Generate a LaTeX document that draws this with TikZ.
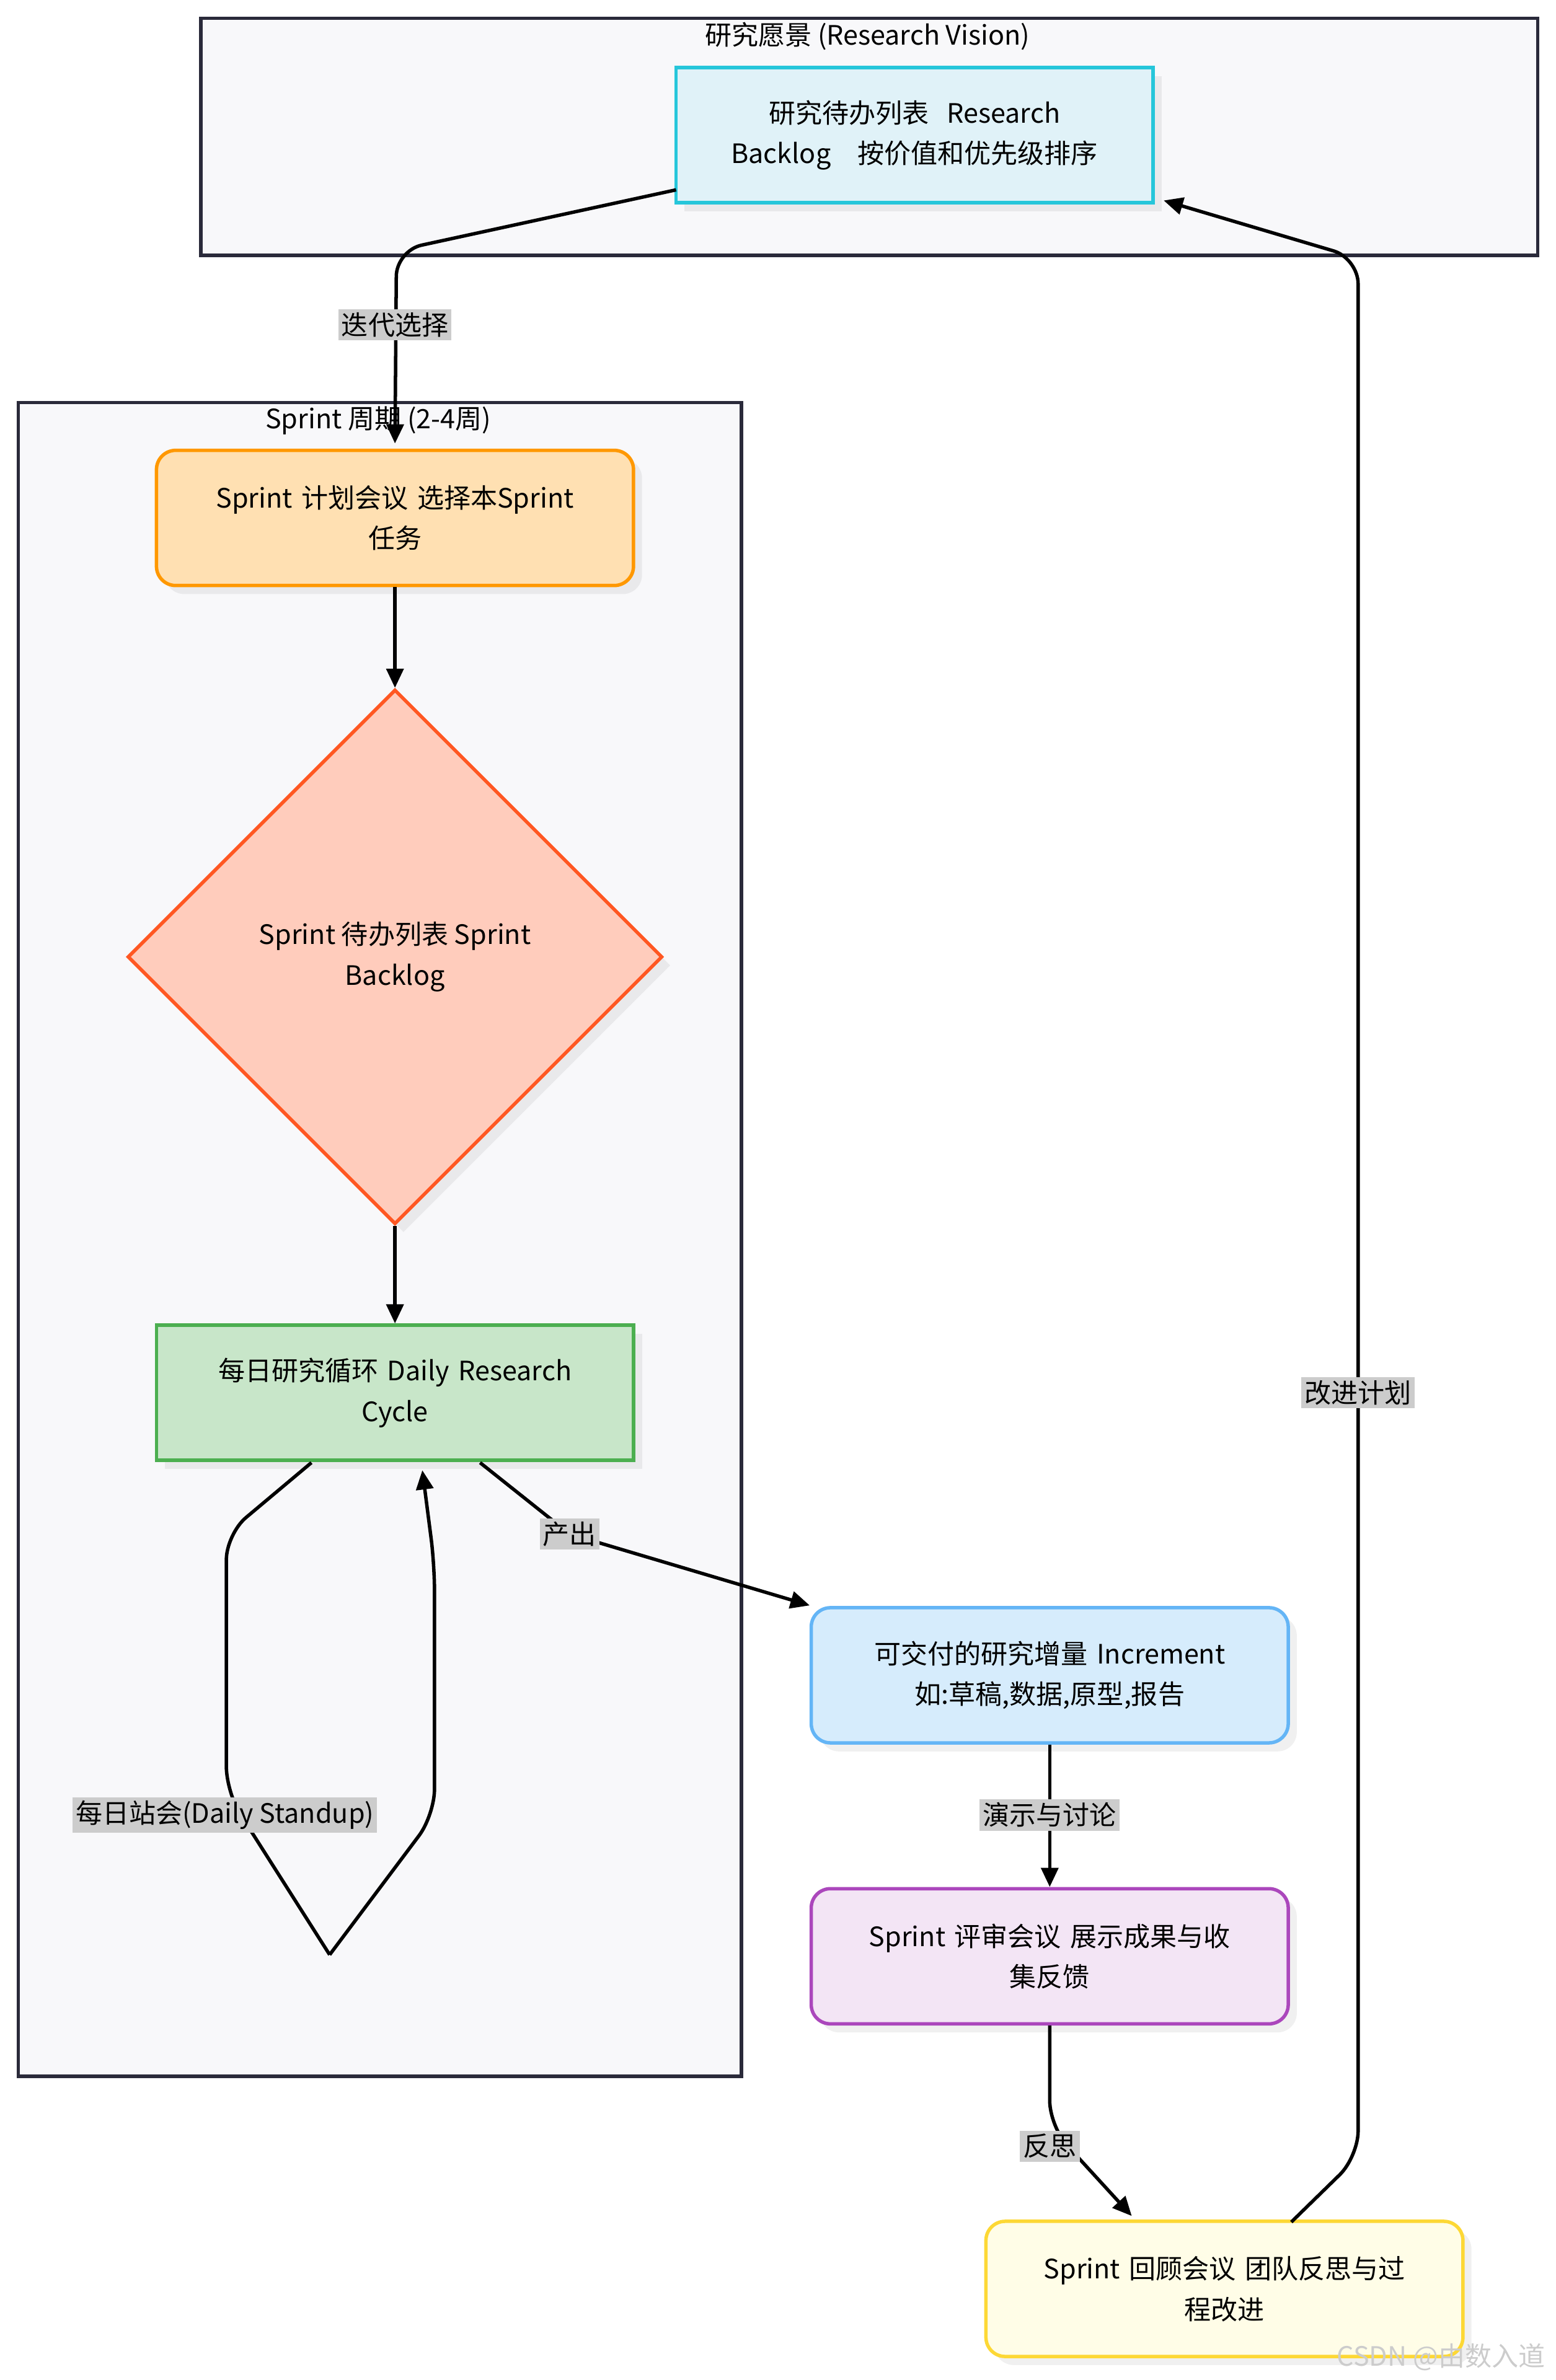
\documentclass[tikz,border=0pt]{standalone}
\usepackage{fontspec}
\setmainfont{Noto Sans CJK SC}
\usetikzlibrary{shapes.geometric, arrows.meta, positioning, shadows}
\definecolor{cBlog}{HTML}{E0F2F8}\definecolor{dBlog}{HTML}{26C6DA}
\definecolor{cPlan}{HTML}{FFE0B2}\definecolor{dPlan}{HTML}{FF9800}
\definecolor{cSbl}{HTML}{FFCCBC}\definecolor{dSbl}{HTML}{FF5722}
\definecolor{cDaily}{HTML}{C8E6C9}\definecolor{dDaily}{HTML}{4CAF50}
\definecolor{cIncr}{HTML}{D6ECFC}\definecolor{dIncr}{HTML}{64B5F6}
\definecolor{cRev}{HTML}{F3E5F5}\definecolor{dRev}{HTML}{AB47BC}
\definecolor{cRetro}{HTML}{FFFDE7}\definecolor{dRetro}{HTML}{FDD835}
\definecolor{cGroup}{HTML}{F8F8FA}\definecolor{dGroup}{HTML}{2A2A3A}

\begin{document}
\begin{tikzpicture}[x=0.025cm, y=-0.025cm,
    >={Triangle[length=9pt,width=8pt]},
    every node/.style={font=\fontsize{12.5}{19}\selectfont},
    group/.style={rectangle, draw=dGroup, line width=1.6pt, fill=cGroup, anchor=north west},
    box/.style={rectangle, line width=1.6pt, minimum width=314*0.025cm, minimum height=89*0.025cm, align=center, text width=290*0.025cm, drop shadow={opacity=0.12, shadow xshift=4pt, shadow yshift=-4pt}},
    rbox/.style={box, rounded corners=9pt},
    lbl/.style={fill=black!20, inner sep=1.5pt, font=\fontsize{12.5}{15}\selectfont},
    flow/.style={->, line width=1.6pt, rounded corners=12pt}
]
\useasboundingbox (0,0) rectangle (1024,1567);

% Groups
\node[group, minimum width=880*0.025cm, minimum height=156*0.025cm] (vision) at (131,11) {};
\node at (571,24) {研究愿景 (Research Vision)};
\node[group, minimum width=476*0.025cm, minimum height=1102*0.025cm] (sprint) at (11,264) {};

% Nodes
\node[box, draw=dBlog, fill=cBlog] (backlog) at (602,89) {研究待办列表 \ Research\\Backlog \ \ 按价值和优先级排序};
\node[rbox, draw=dPlan, fill=cPlan] (plan) at (260,341) {Sprint 计划会议 选择本Sprint\\任务};
\node[diamond, line width=1.6pt, draw=dSbl, fill=cSbl, minimum width=352*0.025cm, minimum height=352*0.025cm, align=center, drop shadow={opacity=0.12, shadow xshift=4pt, shadow yshift=-4pt}] (sbl) at (260,630) {Sprint 待办列表 Sprint\\Backlog};
\node[box, draw=dDaily, fill=cDaily] (daily) at (260,917) {每日研究循环 Daily Research\\Cycle};
\node[rbox, draw=dIncr, fill=cIncr] (incr) at (691,1103) {可交付的研究增量 Increment\\如:草稿,数据,原型,报告};
\node[rbox, draw=dRev, fill=cRev] (review) at (691,1288) {Sprint 评审会议 展示成果与收\\集反馈};
\node[rbox, draw=dRetro, fill=cRetro] (retro) at (806,1507) {Sprint 回顾会议 团队反思与过\\程改进};
\node at (249,277) {Sprint 周期 (2-4周)};

% Connectors
\coordinate (bl) at (445,125);
\draw[flow] (bl) -- (261,165) -- (260,292);
\node[lbl] at (260,214) {迭代选择};
\draw[flow] (plan) -- (sbl.north);
\draw[flow] (sbl.south) -- (daily);
\coordinate (dl) at (205,963);
\coordinate (dr) at (278,968);
\coordinate (lb) at (217,1287);
\draw[flow, -] (dl) -- (149,1010) -- (149,1180) -- (lb);
\draw[flow] (lb) -- (286,1195) -- (286,1030) -- (dr);
\node[lbl] at (148,1195) {每日站会(Daily Standup)};
\coordinate (do) at (316,963);
\coordinate (ii) at (533,1057);
\draw[flow] (do) -- (375,1010) -- (ii);
\node[lbl] at (375,1010) {产出};
\draw[flow] (incr) -- (review);
\node[lbl] at (691,1195) {演示与讨论};
\coordinate (ri) at (745,1459);
\draw[flow] (review) -- (691,1400) -- (ri);
\node[lbl] at (691,1413) {反思};
\coordinate (ro) at (850,1463);
\coordinate (bi) at (766,132);
\draw[flow] (ro) -- (894,1420) -- (894,170) -- (bi);
\node[lbl] at (894,917) {改进计划};

\node[text=black!20, anchor=south east] at (1022,1566) {CSDN @由数入道};
\end{tikzpicture}
\end{document}
